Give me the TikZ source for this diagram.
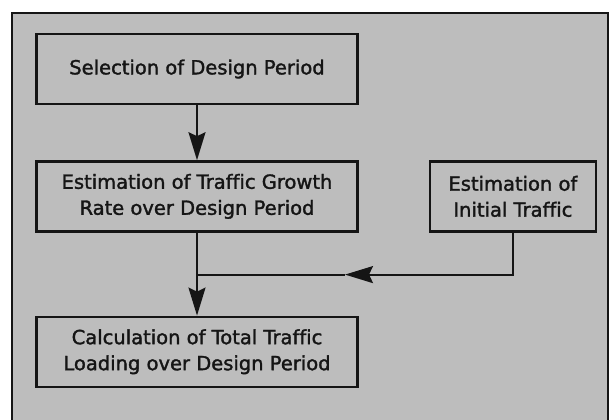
\documentclass[tikz,border=0pt]{standalone}
\usepackage{fontspec}
\setmainfont{DejaVu Sans}[FakeBold=1.6, Ligatures=NoCommon]
\usetikzlibrary{arrows.meta,positioning}
\definecolor{paper}{HTML}{BDBDBD}
\definecolor{ink}{HTML}{151515}
\tikzset{
  box/.style={draw=ink, line width=2.4pt, fill=paper, align=center,
    minimum height=70pt, inner sep=4pt, text=ink,
    font=\fontsize{19.5}{26}\selectfont},
  widebox/.style={box, minimum width=321pt},
  wire/.style={draw=ink, line width=2pt},
  flow/.style={wire, -{Stealth[length=28pt, width=17pt, inset=4pt]}},
}

\begin{document}
\begin{tikzpicture}[x=1pt, y=-1pt, node distance=55pt and 70pt]
    \useasboundingbox (0,0) rectangle (610,420);
    % page frame
    \fill[paper] (12,13) rectangle (608,420);
    \draw[ink, line width=2.4pt] (12,420) -- (12,13) -- (608,13) -- (608,420);
    \node[widebox] (sel) at (197,69) {Selection of Design Period};
    \node[widebox, below=of sel] (rate) {Estimation of Traffic Growth\\Rate over Design Period};
    \node[widebox, below=83pt of rate] (calc) {Calculation of Total Traffic\\Loading over Design Period};
    \node[box, minimum width=166pt, right=of rate] (init) {Estimation of\\Initial Traffic};
    \coordinate (join) at ([yshift=-42pt]rate.south);
    \coordinate (meet) at ([xshift=148pt]join);
    \draw[flow] (sel) -- (rate);
    \draw[flow] (rate) -- (calc);
    \draw[flow] (init.south) |- (meet);
    \draw[wire] (meet) -- (join);
  \end{tikzpicture}
\end{document}
